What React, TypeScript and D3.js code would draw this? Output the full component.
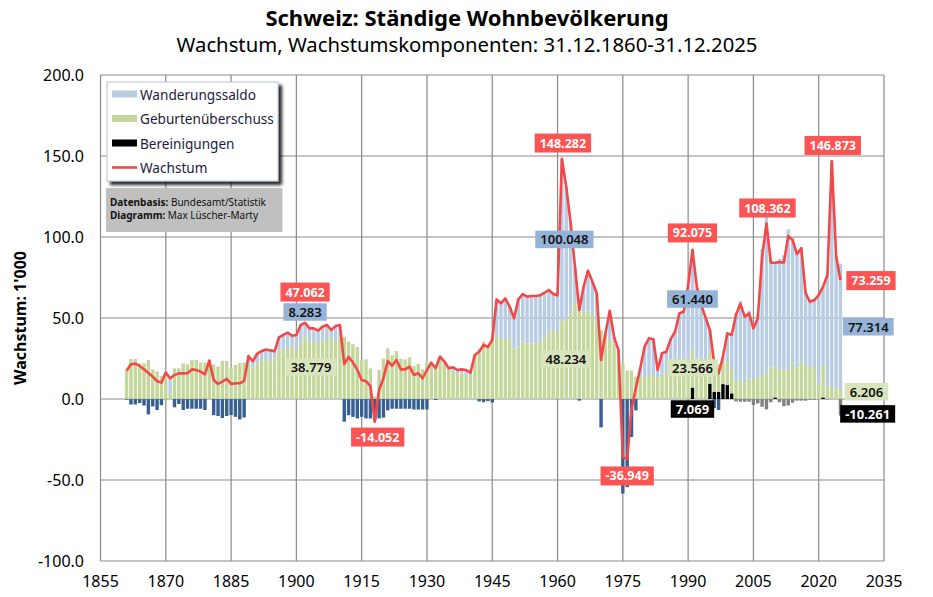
import React, { useLayoutEffect, useRef, useState } from 'react';
import * as d3 from 'd3';

const FIRST_YEAR = 1861;

// Geburtenüberschuss (1'000), 1861-2025
const births: number[] = [
  17.9, 24.7, 24.7, 22.0, 22.0, 24.1, 18.3, 17.1, 14.2, 16.3,
  3.5, 18.9, 18.9, 22.0, 21.4, 24.1, 24.1, 22.6, 22.6, 21.4,
  21.4, 20.0, 23.5, 23.5, 18.9, 21.0, 22.4, 22.6, 21.0, 19.5,
  22.0, 24.0, 25.0, 24.0, 25.0, 30.0, 31.0, 31.0, 33.0, 30.5,
  35.0, 38.779, 35.0, 36.0, 34.0, 36.0, 37.0, 38.0, 36.0, 38.0,
  38.4, 35.4, 33.9, 32.0, 24.1, 24.5, 18.9, 1.5, 17.9, 25.0,
  31.3, 27.0, 29.6, 24.8, 24.5, 25.7, 20.4, 21.6, 18.3, 23.1,
  20.4, 19.6, 25.1, 22.0, 17.9, 16.9, 15.9, 15.9, 14.8, 14.2,
  27.2, 30.7, 35.4, 33.4, 38.5, 38.9, 37.5, 36.4, 37.5, 31.3,
  32.3, 35.4, 34.4, 34.4, 34.4, 35.4, 38.5, 41.6, 42.6, 41.6,
  48.234, 48.8, 52.9, 59.5, 56.0, 53.9, 53.9, 51.9, 47.8, 42.6,
  39.5, 36.4, 34.4, 29.2, 22.4, 17.5, 17.5, 13.8, 13.8, 14.2,
  14.2, 15.5, 13.2, 15.8, 14.8, 15.5, 17.9, 19.9, 21.0, 23.0,
  23.566, 25.0, 24.0, 22.0, 20.0, 19.0, 17.0, 15.0, 14.0, 15.0,
  11.3, 11.3, 9.6, 12.7, 12.7, 13.3, 14.8, 15.8, 19.5, 18.9,
  18.3, 18.3, 17.9, 22.0, 19.5, 23.0, 20.3, 20.3, 18.9, 9.6,
  19.9, 8.0, 8.0, 6.5, 6.206,
];

// Wanderungssaldo (1'000)
const migration: number[] = [
  -0.4, -3.4, -3.4, -2.5, -4.0, -9.5, -4.6, -6.8, -3.8, 0,
  9.5, -5.1, -3.1, -6.8, -6.0, -6.0, -6.0, -6.0, -6.8, 2.3,
  -10.0, -10.5, -11.8, -10.5, -9.9, -11.0, -12.6, -11.4, 5.5, 4.0,
  6.0, 5.5, 5.6, 6.0, 4.5, 8.0, 8.6, 10.0, 6.0, 9.0,
  10.7, 8.283, 8.6, 7.6, 8.2, 8.6, 8.7, 4.6, 9.0, 7.7,
  -14.0, -10.0, -11.0, -12.0, -11.0, -12.0, -12.0, -13.0, -12.0, -11.5,
  -7.0, -6.0, -6.0, -6.0, -6.0, -6.0, -6.5, -6.5, -6.5, -6.5,
  2.0, -0.6, 1.1, 1.1, 1.1, 2.7, 2.0, 2.4, 3.1, 2.1,
  0, -1.5, -2.0, -1.3, -2.1, 22.6, 21.5, 25.7, 19.5, 18.5,
  29.2, 29.4, 28.8, 29.2, 29.2, 28.6, 27.1, 25.7, 22.2, 22.4,
  100.048, 82.2, 55.9, 22.2, -1.0, 15.5, 25.3, 20.6, 17.5, -17.5,
  1.0, 18.1, 3.7, 1.0, -58.4, -54.4, -23.5, -7.0, 5.2, 18.1,
  23.3, 21.4, 4.7, 12.4, 14.4, 21.5, 23.6, 33.0, 32.9, 47.0,
  61.44, 44.3, 34.0, 28.4, 13.1, -5.6, -6.8, 1.9, 17.9, 21.0,
  42.0, 49.2, 42.9, 41.8, 34.6, 39.1, 77.8, 99.0, 66.6, 64.2,
  68.2, 70.4, 86.7, 78.4, 71.0, 71.0, 45.9, 40.2, 42.7, 54.5,
  48.4, 68.8, 138.9, 81.7, 77.314,
];

// Bereinigungen (1'000)
const adjustments: number[] = [
  0, 0, 0, 0, 0, 0, 0, 0, 0, 0,
  0, 0, 0, 0, 0, 0, 0, 0, 0, 0,
  0, 0, 0, 0, 0, 0, 0, 0, 0, 0,
  0, 0, 0, 0, 0, 0, 0, 0, 0, 0,
  0, 0, 0, 0, 0, 0, 0, 0, 0, 0,
  0, 0, 0, 0, 0, 0, 0, 0, 0, 0,
  0, 0, 0, 0, 0, 0, 0, 0, 0, 0,
  0, 0, 0, 0, 0, 0, 0, 0, 0, 0,
  0, 0, 0, 0, 0, 0, 0, 0, 0, 0,
  0, 0, 0, 0, 0, 0, 0, 0, 0, 0,
  0, 0, 0, 0, 0, 0, 0, 0, 0, 0,
  0, 0, 0, 0, 0, 0, 0, 0, 0, 0,
  0, 0, 0, 0, 0, 0, 0, 0, 0, 0,
  7.069, 0, 0, 0, 9.5, 4.5, 4.5, 9.2, 8.6, 3.5,
  -1.5, -1.7, -1.7, -1.7, -3.7, -2.7, -4.8, -6.4, -2.0, 1.0,
  -2.0, -4.4, -4.0, -2.3, -1.0, -1.0, -1.0, -0.5, -0.5, 0,
  1.0, -0.3, 0, 0, -10.261,
];

// Wachstum (1'000)
const growth: number[] = [
  17.5, 21.4, 21.8, 20.4, 18.3, 16.0, 13.8, 11.0, 10.1, 16.3,
  12.8, 14.8, 15.8, 15.8, 15.9, 18.3, 17.9, 16.9, 15.2, 23.7,
  11.7, 9.3, 10.7, 12.4, 9.3, 9.7, 9.7, 11.2, 26.5, 23.3,
  28.0, 29.5, 30.6, 30.0, 29.5, 38.0, 39.6, 41.0, 39.0, 39.5,
  45.7, 47.062, 43.6, 43.6, 42.2, 44.6, 45.7, 42.6, 45.0, 45.7,
  21.5, 26.0, 22.5, 18.0, 11.7, 11.0, 8.0, -14.052, 5.6, 12.8,
  23.5, 20.5, 24.1, 18.3, 18.3, 20.0, 14.8, 15.9, 12.8, 17.9,
  22.4, 19.0, 26.2, 23.1, 19.0, 19.6, 17.9, 18.3, 17.9, 16.3,
  27.2, 29.2, 33.4, 32.1, 36.4, 61.5, 59.0, 62.1, 57.0, 49.8,
  61.5, 64.8, 63.2, 63.6, 63.6, 64.0, 65.6, 67.3, 64.8, 64.0,
  148.282, 131.0, 108.8, 81.7, 55.0, 69.4, 79.2, 72.5, 65.3, 24.1,
  40.5, 54.5, 38.1, 30.2, -36.0, -36.949, -6.0, 6.8, 19.0, 32.3,
  37.5, 36.9, 17.9, 28.2, 29.2, 37.0, 41.5, 52.9, 53.9, 70.0,
  92.075, 69.3, 58.0, 50.4, 42.6, 22.0, 15.8, 26.1, 40.5, 39.5,
  51.8, 58.8, 50.8, 52.8, 43.6, 49.7, 87.8, 108.362, 84.1, 84.1,
  84.5, 84.3, 100.6, 98.1, 89.5, 93.0, 65.2, 60.0, 61.1, 64.1,
  69.3, 76.5, 146.873, 88.2, 73.259,
];

const years: number[] = births.map((_, i) => FIRST_YEAR + i);

const xTickYears: number[] = [1855, 1870, 1885, 1900, 1915, 1930, 1945, 1960, 1975, 1990, 2005, 2020, 2035];
const yTickValues: number[] = [-100, -50, 0, 50, 100, 150, 200];

type Kind = 'growth' | 'mig' | 'births' | 'adj';
// annotated values: year, series kind, horizontal shift, placement value
const labelYears: number[] = [1961, 1961, 1961, 1902, 1902, 1902, 1918, 1991, 1991, 1991, 1991, 1976, 2008, 2023, 2025, 2025, 2025, 2025];
const labelKinds: Kind[] = ['growth', 'mig', 'births', 'growth', 'mig', 'births', 'growth', 'growth', 'mig', 'births', 'adj', 'growth', 'growth', 'growth', 'growth', 'mig', 'births', 'adj'];
const labelDx: number[] = [1, 2.5, 4, 0, 0, 6, 3, 0, 0, 0, 0, 0, 1, 1, 30.5, 27.8, 26, 27.2];
const labelAt: number[] = [158.0, 98.5, 24.7, 66.0, 53.7, 19.8, -23.5, 102.5, 61.7, 19.1, -6.2, -47.5, 117.9, 156.5, 73.1, 44.6, 4.5, -9.2];

const C = {
  mig: '#b8cce4',
  migNeg: '#376092',
  births: '#c4d79b',
  adj: '#000000',
  adjNeg: '#808080',
  line: '#f24848',
  grid: '#8a8a8a',
  labelRed: '#fa5454',
  labelBlue: '#95b3d7',
  labelGreen: '#d7e4bc',
};

const FONT = "'Noto Sans', 'DejaVu Sans', sans-serif";

const x = d3.scaleLinear().domain([1855, 2035]).range([100.5, 884]);
const y = d3.scaleLinear().domain([-100, 200]).range([561, 75]);

const seriesOf = (k: Kind): number[] =>
  k === 'growth' ? growth : k === 'mig' ? migration : k === 'births' ? births : adjustments;

const fmt3 = (v: number) => v.toFixed(3);
const fmt1 = (v: number) => v.toFixed(1);

function Label(props: { cx: number; cy: number; text: string; kind: Kind }) {
  const { cx, cy, text, kind } = props;
  const ref = useRef<SVGTextElement>(null);
  const [w, setW] = useState(text.length * 7);
  useLayoutEffect(() => {
    if (ref.current) setW(ref.current.getComputedTextLength());
  }, [text]);
  const bg = kind === 'growth' ? C.labelRed : kind === 'mig' ? C.labelBlue : kind === 'births' ? C.labelGreen : '#000';
  const fg = kind === 'growth' || kind === 'adj' ? '#ffffff' : '#111111';
  const weight = kind === 'growth' || kind === 'adj' ? 700 : 600;
  const size = kind === 'growth' ? 12.5 : 13;
  const h = kind === 'growth' ? 19 : 17.5;
  const padX = 5;
  return (
    <g>
      <rect x={cx - w / 2 - padX} y={cy - h / 2} width={w + 2 * padX} height={h} fill={bg} />
      <text ref={ref} x={cx} y={cy} textAnchor="middle" dominantBaseline="central" fontSize={size} fontWeight={weight} fill={fg} fontFamily={FONT}>
        {text}
      </text>
    </g>
  );
}

export default function App() {
  const step = x(1) - x(0);
  const bw = step * 0.78;

  const rects: React.ReactElement[] = [];
  years.forEach((yr, i) => {
    const cx = x(yr);
    let pos = 0;
    let neg = 0;
    const push = (v0: number, v1: number, fill: string, key: string) => {
      const top = y(Math.max(v0, v1));
      const bot = y(Math.min(v0, v1));
      rects.push(<rect key={key} x={cx - bw / 2} y={top} width={bw} height={Math.max(0, bot - top)} fill={fill} />);
    };
    const a = adjustments[i];
    const b = births[i];
    const m = migration[i];
    if (a > 0) { push(pos, pos + a, C.adj, `a${i}`); pos += a; }
    if (b > 0) { push(pos, pos + b, C.births, `b${i}`); pos += b; }
    if (m > 0) { push(pos, pos + m, C.mig, `m${i}`); pos += m; }
    if (m < 0) { push(neg, neg + m, C.migNeg, `mn${i}`); neg += m; }
    if (a < 0) { push(neg, neg + a, C.adjNeg, `an${i}`); neg += a; }
    if (b < 0) { push(neg, neg + b, C.births, `bn${i}`); neg += b; }
  });

  const linePath = d3
    .line<number>()
    .x((_, i) => x(years[i]))
    .y((d) => y(d))(growth) as string;

  const legendItems = [
    { name: 'Wanderungssaldo', color: C.mig, type: 'bar' },
    { name: 'Geburtenüberschuss', color: C.births, type: 'bar' },
    { name: 'Bereinigungen', color: C.adj, type: 'bar' },
    { name: 'Wachstum', color: C.line, type: 'line' },
  ];

  return (
    <svg width={933} height={597} style={{ position: 'absolute', left: 0, top: 0, display: 'block', background: '#fff' }} fontFamily={FONT}>
      <defs>
        <filter id="shadow" x="-10%" y="-10%" width="130%" height="140%">
          <feDropShadow dx="3.5" dy="3.5" stdDeviation="1.4" floodColor="#000" floodOpacity="0.85" />
        </filter>
      </defs>
      <rect x={0} y={0} width={933} height={597} fill="#fff" />

      {/* titles */}
      <text x={467} y={26} textAnchor="middle" fontSize={22} fontWeight={700} fill="#000">
        Schweiz: Ständige Wohnbevölkerung
      </text>
      <text x={467} y={52} textAnchor="middle" fontSize={20.3} fill="#000">
        Wachstum, Wachstumskomponenten: 31.12.1860-31.12.2025
      </text>

      {/* grid */}
      <g>
        {yTickValues.map((v) => (
          <line key={`gy${v}`} x1={x(1855)} x2={x(2035)} y1={y(v)} y2={y(v)} stroke={C.grid} strokeWidth={1.2} />
        ))}
        {xTickYears.map((yr) => (
          <line key={`gx${yr}`} x1={x(yr)} x2={x(yr)} y1={y(200)} y2={y(-100)} stroke={C.grid} strokeWidth={1.2} />
        ))}
      </g>

      {/* bars */}
      <g>{rects}</g>

      {/* growth line */}
      <path d={linePath} fill="none" stroke={C.line} strokeWidth={2.6} strokeLinejoin="round" />

      {/* axis tick labels */}
      {yTickValues.map((v) => (
        <text key={`ty${v}`} x={84} y={y(v)} textAnchor="end" dominantBaseline="central" fontSize={16} fill="#000">
          {fmt1(v)}
        </text>
      ))}
      {xTickYears.map((yr) => (
        <text key={`tx${yr}`} x={x(yr)} y={581} textAnchor="middle" dominantBaseline="central" fontSize={16} fill="#000">
          {yr}
        </text>
      ))}
      <text transform={`translate(20,${y(50)}) rotate(-90)`} textAnchor="middle" dominantBaseline="central" fontSize={16} fontWeight={700} fill="#000">
        Wachstum: 1'000
      </text>

      {/* data labels */}
      {labelYears.map((yr, j) => {
        const idx = yr - FIRST_YEAR;
        const v = seriesOf(labelKinds[j])[idx];
        return (
          <Label key={`lb${j}`} cx={x(yr) + labelDx[j]} cy={y(labelAt[j])} text={fmt3(v)} kind={labelKinds[j]} />
        );
      })}

      {/* legend */}
      <g>
        <rect x={107} y={82} width={171} height={99} fill="#fff" stroke="#b7c4d8" strokeWidth={1} filter="url(#shadow)" />
        {legendItems.map((it, k) => {
          const cy = 94 + k * 24.5;
          return (
            <g key={it.name}>
              {it.type === 'bar' ? (
                <rect x={112} y={cy - 3.5} width={25} height={7} fill={it.color} />
              ) : (
                <line x1={112} x2={137} y1={cy} y2={cy} stroke={it.color} strokeWidth={2.6} />
              )}
              <text x={140} y={cy} dominantBaseline="central" fontSize={13.6} fill="#1c1c3c">
                {it.name}
              </text>
            </g>
          );
        })}
      </g>

      {/* source box */}
      <g>
        <rect x={106} y={188} width={176.5} height={44} fill="#c0c0c0" />
        <text x={110} y={206} fontSize={10} fill="#111">
          <tspan fontWeight={700}>Datenbasis:</tspan> Bundesamt/Statistik
        </text>
        <text x={110} y={219} fontSize={10} fill="#111">
          <tspan fontWeight={700}>Diagramm:</tspan> Max Lüscher-Marty
        </text>
      </g>
    </svg>
  );
}
